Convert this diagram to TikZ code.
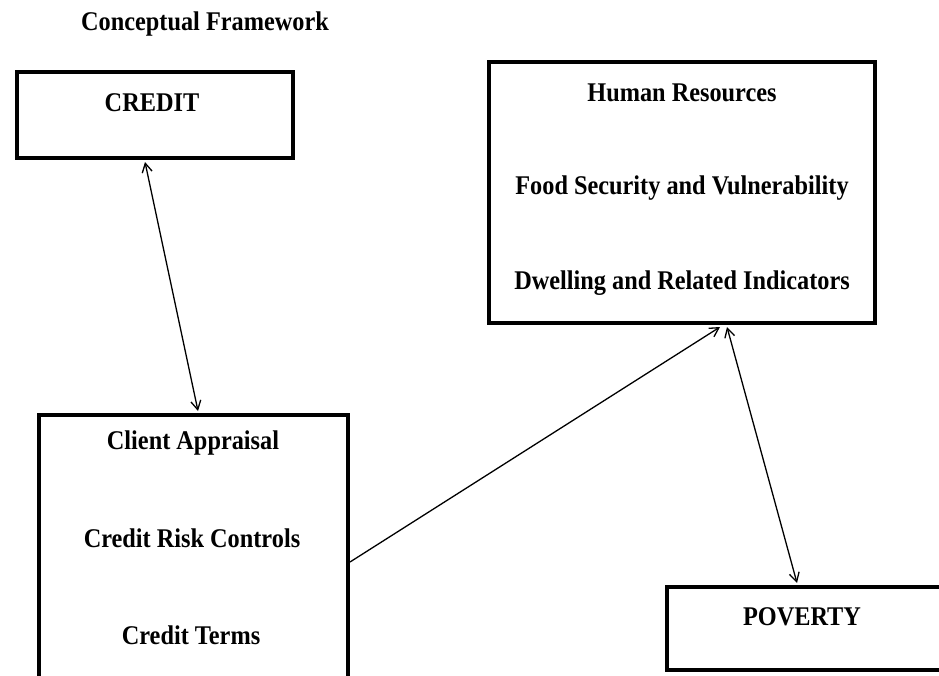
\documentclass[tikz,border=0pt]{standalone}
\usepackage{fontspec}
\setmainfont{Liberation Serif}[FakeStretch=0.9]
\usetikzlibrary{arrows.meta}
\tikzset{
  box/.style={draw, line width=4pt, inner sep=0pt},
  lbl/.style={font=\fontsize{27}{30}\selectfont\bfseries, inner sep=0pt},
  link/.style={line width=1.3pt, >={Straight Barb[length=9pt,width=10pt]}}
}
\begin{document}
\begin{tikzpicture}[x=1pt, y=-1pt]
  \useasboundingbox (0,0) rectangle (939,675);

  \node[lbl] (title) at (205,24) {Conceptual Framework};

  \node[box, minimum width=276pt, minimum height=86pt] (credit) at (155,115) {};
  \node[box, minimum width=386pt, minimum height=261pt] (hr) at (682,192.5) {};
  \node[box, minimum width=309pt, minimum height=290pt] (client) at (193.5,560) {};
  \node[box, minimum width=340pt, minimum height=83pt] (poverty) at (837,628.5) {};

  \node[lbl] (creditT) at (152,103) {CREDIT};
  \node[lbl] (hrA) at (682,93) {Human Resources};
  \node[lbl] (hrB) at (682,188) {Food Security and Vulnerability};
  \node[lbl] (hrC) at (682,283) {Dwelling and Related Indicators};
  \node[lbl] (clA) at (193,443) {Client Appraisal};
  \node[lbl] (clB) at (192,538) {Credit Risk Controls};
  \node[lbl] (clC) at (191,635) {Credit Terms};
  \node[lbl] (povT) at (802,617) {POVERTY};

  \draw[link, <->] ([xshift=-10pt,yshift=-2pt]credit.south) -- ([xshift=4.5pt,yshift=2pt]client.north);
  \draw[link, ->] ([xshift=0pt,yshift=-2pt]client.east) -- ([xshift=38pt,yshift=-2pt]hr.south);
  \draw[link, <->] ([xshift=45pt,yshift=-2pt]hr.south) -- ([xshift=-40pt,yshift=2pt]poverty.north);
\end{tikzpicture}
\end{document}
